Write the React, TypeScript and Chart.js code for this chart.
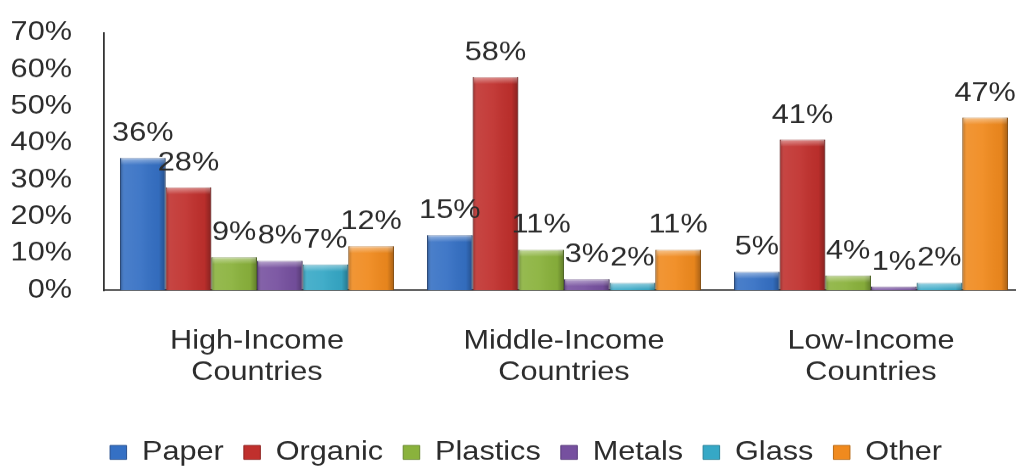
import React, { useEffect, useRef } from 'react';
import { Chart, registerables } from 'chart.js';

Chart.register(...registerables);

// ---- data ----
const categories = [
  ['High-Income', 'Countries'],
  ['Middle-Income', 'Countries'],
  ['Low-Income', 'Countries'],
];
const seriesNames = ['Paper', 'Organic', 'Plastics', 'Metals', 'Glass', 'Other'];
const paper = [36, 15, 5];
const organic = [28, 58, 41];
const plastics = [9, 11, 4];
const metals = [8, 3, 1];
const glass = [7, 2, 2];
const other = [12, 11, 47];
const seriesValues = [paper, organic, plastics, metals, glass, other];
const seriesColors = ['#3570C4', '#C0302D', '#8AB23C', '#76509F', '#36A8C6', '#F08A1E'];
const seriesBorders = ['#244C8C', '#8C1F1D', '#64852A', '#553878', '#237C94', '#B4650F'];
const yMin = 0;
const yMax = 70;
const yStep = 10;

// horizontal stretch of the whole drawing (reference text is wide)
const SX = 1.18;
const W = 880;
const H = 475;
const FONT = "'Liberation Sans', Arial, sans-serif";
const TEXT = '#2b2b2b';

const legendShift = {
  id: 'legendShift',
  afterLayout(chart: any) {
    const lg = chart.legend;
    if (lg) {
      lg.left += 11.7;
      lg.right += 11.7;
    }
  },
};

const barDecor = {
  id: 'barDecor',
  afterDatasetsDraw(chart: any) {
    const ctx = chart.ctx;
    ctx.save();
    chart.data.datasets.forEach((_ds: any, di: number) => {
      const meta = chart.getDatasetMeta(di);
      meta.data.forEach((bar: any) => {
        const { x, y, base, width } = bar.getProps(['x', 'y', 'base', 'width'], true);
        const left = x - width / 2;
        const h = base - y;
        if (h <= 0) return;
        const g = ctx.createLinearGradient(left, 0, left + width, 0);
        g.addColorStop(0, 'rgba(0,0,0,0.28)');
        g.addColorStop(0.1, 'rgba(255,255,255,0.10)');
        g.addColorStop(0.45, 'rgba(255,255,255,0.06)');
        g.addColorStop(0.85, 'rgba(0,0,0,0.04)');
        g.addColorStop(1, 'rgba(0,0,0,0.30)');
        ctx.fillStyle = g;
        ctx.fillRect(left, y, width, h);
        const th = Math.min(7, h);
        const g2 = ctx.createLinearGradient(0, y, 0, y + th);
        g2.addColorStop(0, 'rgba(255,255,255,0.45)');
        g2.addColorStop(1, 'rgba(255,255,255,0)');
        ctx.fillStyle = g2;
        ctx.fillRect(left + 1, y, width - 2, th);
      });
    });
    // value labels
    ctx.fillStyle = TEXT;
    ctx.font = `26px ${FONT}`;
    ctx.textAlign = 'center';
    ctx.textBaseline = 'alphabetic';
    chart.data.datasets.forEach((ds: any, di: number) => {
      const meta = chart.getDatasetMeta(di);
      meta.data.forEach((bar: any, i: number) => {
        const { x, y } = bar.getProps(['x', 'y'], true);
        ctx.fillText(ds.data[i] + '%', x, y - 17);
      });
    });
    ctx.restore();
  },
};

export default function App() {
  const ref = useRef<HTMLCanvasElement>(null);

  useEffect(() => {
    if (!ref.current) return;
    const chart = new Chart(ref.current, {
      type: 'bar',
      data: {
        labels: categories as any,
        datasets: seriesNames.map((name, i) => ({
          label: name,
          data: seriesValues[i],
          backgroundColor: seriesColors[i],
          borderColor: seriesBorders[i],
          borderWidth: 0.8,
          categoryPercentage: 0.8925,
          barPercentage: 1,
        })),
      },
      options: {
        responsive: false,
        animation: false,
        devicePixelRatio: SX,
        layout: { padding: { left: 0, right: 11.8, top: 33, bottom: 0 } },
        plugins: {
          tooltip: { enabled: false },
          legend: {
            position: 'bottom',
            labels: {
              boxWidth: 14,
              boxHeight: 14,
              padding: 17,
              color: TEXT,
              font: { family: FONT, size: 26 },
            },
          },
        },
        scales: {
          x: {
            offset: true,
            grid: { display: false, drawTicks: false },
            border: { display: true, color: '#333', width: 1.5 },
            ticks: {
              padding: 36,
              color: TEXT,
              maxRotation: 0,
              autoSkip: false,
              font: { family: FONT, size: 26, lineHeight: 1.19 },
            },
            afterFit: (s: any) => {
              s.height = 132;
            },
          },
          y: {
            min: yMin,
            max: yMax,
            grid: { display: false, drawTicks: false },
            border: { display: true, color: '#333', width: 1.5 },
            ticks: {
              stepSize: yStep,
              padding: 26.7,
              color: TEXT,
              font: { family: FONT, size: 26, lineHeight: 0.4 },
              callback: (v: any) => v + '%',
            },
            afterFit: (s: any) => {
              s.width = 87.7;
            },
          },
        },
      },
      plugins: [barDecor, legendShift],
    } as any);
    return () => chart.destroy();
  }, []);

  return (
    <div
      style={{
        position: 'fixed',
        left: 0,
        top: 0,
        width: 1016,
        height: 466,
        overflow: 'hidden',
        background: '#fff',
      }}
    >
      <canvas
        ref={ref}
        width={W}
        height={H}
        style={{ width: `${W * SX}px`, height: `${H}px`, display: 'block' }}
      />
    </div>
  );
}
